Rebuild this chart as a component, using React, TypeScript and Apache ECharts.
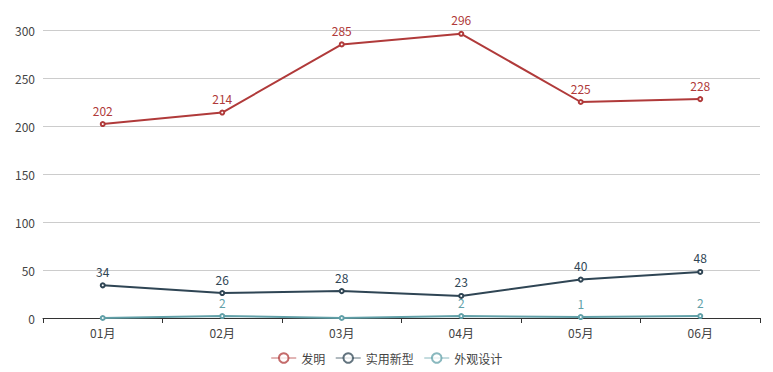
import React, { useEffect, useRef } from "react";
import * as echarts from "echarts";

const categories = ["01月", "02月", "03月", "04月", "05月", "06月"];
const inventionValues = [202, 214, 285, 296, 225, 228];
const utilityValues = [34, 26, 28, 23, 40, 48];
const designValues = [0, 2, 0, 2, 1, 2];
const seriesNames = ["发明", "实用新型", "外观设计"];
const colors = ["#b03a3a", "#2f4554", "#61a0a8"];

export default function App() {
  const ref = useRef<HTMLDivElement>(null);
  useEffect(() => {
    if (!ref.current) return;
    const chart = echarts.init(ref.current, undefined, { renderer: "svg" });
    const font = "'Microsoft YaHei', 'Noto Sans CJK SC', sans-serif";
    const mk = (name: string, data: number[], color: string) => ({
      name,
      type: "line",
      data,
      symbol: "emptyCircle",
      symbolSize: 4,
      lineStyle: { width: 2, color },
      itemStyle: { color, borderWidth: 1 },
      label: {
        show: true,
        position: "top",
        color,
        fontSize: 12,
        fontFamily: font,
        formatter: (p: any) => (p.value === 0 ? "" : String(p.value)),
      },
    });
    chart.setOption({
      animation: false,
      color: colors,
      textStyle: { fontFamily: font },
      grid: { left: 43, right: 13, top: 30, bottom: 54 },
      legend: {
        bottom: 3,
        left: "center",
        itemWidth: 25,
        itemHeight: 12,
        itemGap: 10,
        lineStyle: { width: 1, opacity: 0.75 },
        itemStyle: { borderWidth: 1, opacity: 0.75 },
        textStyle: { color: "#444", fontSize: 12, fontFamily: font },
        data: seriesNames,
      },
      xAxis: {
        type: "category",
        data: categories,
        boundaryGap: true,
        axisLine: { lineStyle: { color: "#333" } },
        axisTick: { show: true, lineStyle: { color: "#333" } },
        axisLabel: { color: "#444", fontSize: 12, fontFamily: font },
      },
      yAxis: {
        type: "value",
        min: 0,
        max: 300,
        interval: 50,
        axisLine: { show: false },
        axisTick: { show: false },
        axisLabel: { color: "#444", fontSize: 12, fontFamily: font },
        splitLine: { lineStyle: { color: "#ccc" } },
      },
      series: [
        mk(seriesNames[0], inventionValues, colors[0]),
        mk(seriesNames[1], utilityValues, colors[1]),
        mk(seriesNames[2], designValues, colors[2]),
      ],
    });
    return () => chart.dispose();
  }, []);
  return <div ref={ref} style={{ width: 773, height: 372, position: "absolute", left: 0, top: 0 }} />;
}
